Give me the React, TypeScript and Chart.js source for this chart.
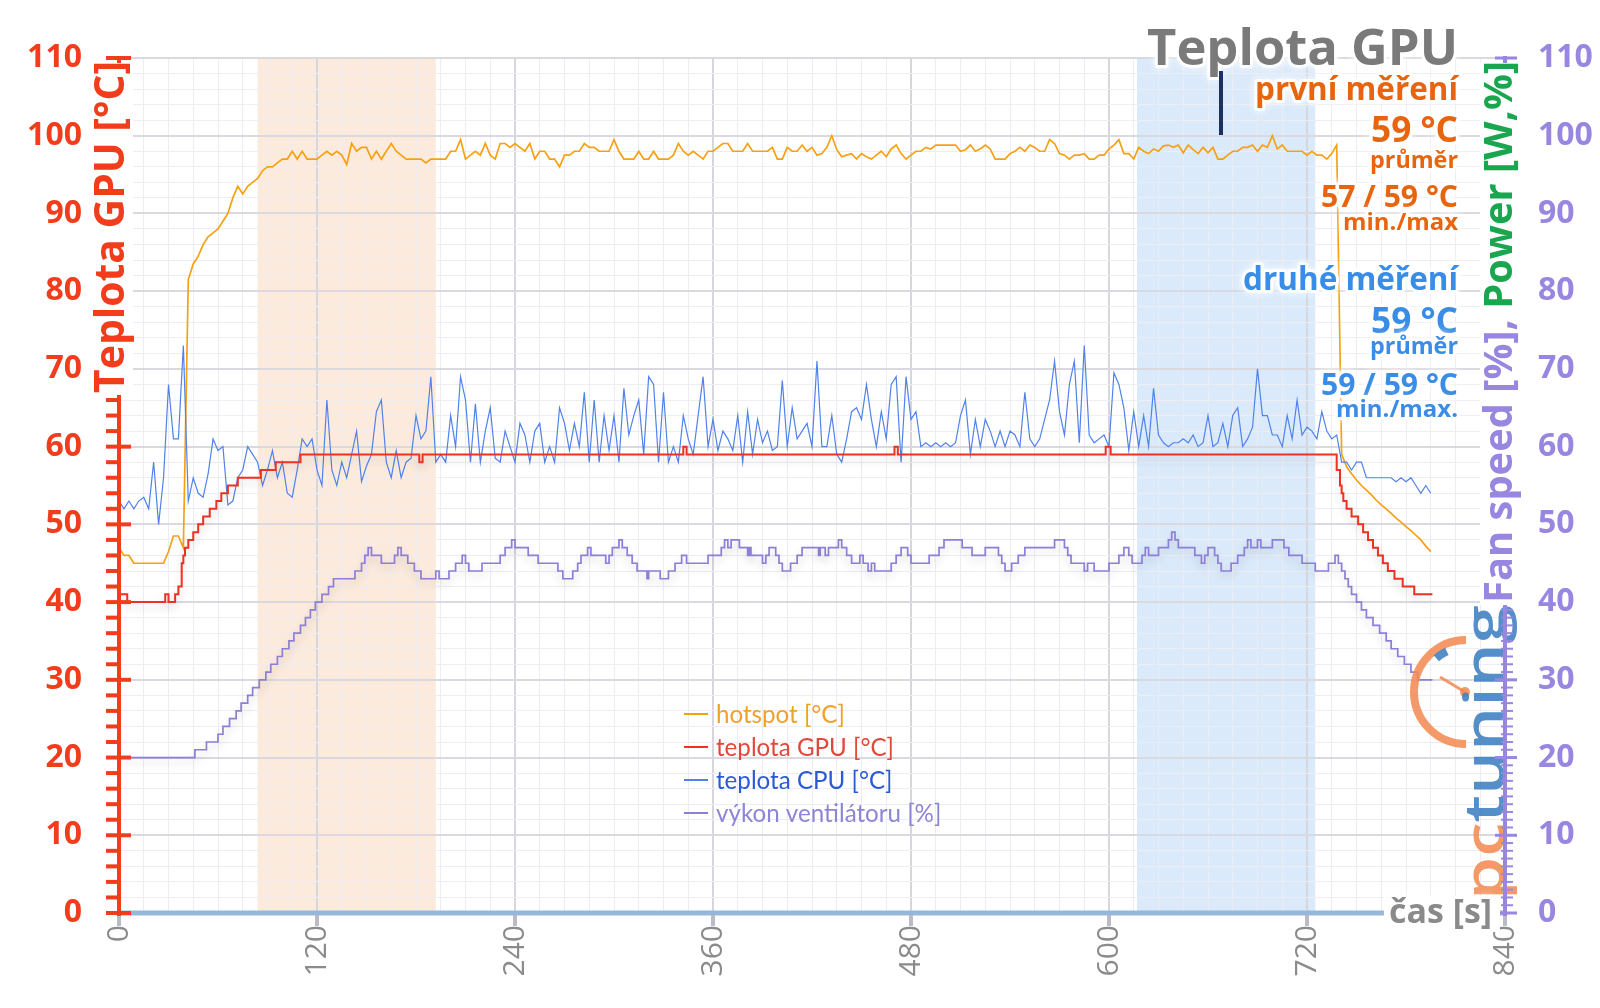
import React, { useEffect, useRef } from "react";
import { Chart, registerables } from "chart.js";

Chart.register(...registerables);

const FONT = '"Open Sans", "Noto Sans", "DejaVu Sans", sans-serif';
const LEGEND_FONT = 'Lato, "Open Sans", sans-serif';

// ---------------- data ----------------
const SAMPLE_STEP_S = 3; // hotspot & CPU sampled every 3 s starting at 0 s

const hotspotTemp = [
  47, 46, 46, 45, 45, 45, 45, 45, 45, 45,
  46.5, 48.5, 48.5, 47, 81.5, 83.5, 84.5, 86, 87, 87.5,
  88, 89, 90, 92, 93.5, 92.5, 93.5, 94, 94.5, 95.5,
  96, 96, 96.5, 97, 97, 98, 97, 98, 97, 97,
  97, 97.5, 98, 97.5, 98, 97.5, 96.3, 99, 98, 98.5,
  98.5, 97, 98, 97, 98, 99, 98, 97.5, 97, 97,
  97, 97, 96.5, 97, 97, 97, 97, 98,
  98, 99.5, 97, 97.5, 98, 97.5, 99, 97.5, 97, 99,
  99, 98.5, 99, 98.5, 98, 99, 97, 98, 98, 97,
  97, 96, 97.5, 97.5, 98, 98, 99, 98.5, 98.5, 98,
  98, 98, 99.5, 98, 97, 97, 97, 98, 97, 97,
  98, 97, 97, 97, 97.5, 99, 98, 97.5, 98, 97.5,
  97, 98, 98, 98.5, 99, 99, 98, 98, 98, 99,
  98, 98, 98, 98, 98.5, 97, 97,
  98.5, 98, 98, 98.8, 98, 98.5, 97.5, 97.7, 98.5, 100,
  98.2, 97.3, 97.5, 97.7, 97, 97.7, 97.3, 97, 97.5, 98,
  97.3, 98.3, 98.8, 97.7, 97, 97.5, 98, 98, 98.5, 98.3,
  98.8, 98.8, 98.8, 98.8, 98.8, 98, 98.2, 98.8, 98, 98.3,
  98.8, 98.3, 97, 97, 97, 97.7, 98, 98.5, 98, 98.8,
  98.5, 98, 98, 99.5, 99, 97.7, 97.5, 97, 97.5, 97.5,
  97.7, 97, 97, 97.5, 97.5, 98.3, 98.8,
  99.5, 97.7, 97.7, 97, 98.5, 98, 97.7, 98.3, 98, 98.7,
  98.8, 98.5, 98.8, 97.8, 98.8, 98.2, 97.7, 98.5, 97.8, 98.5,
  97, 97, 97.5, 98, 98, 98.5, 98.5, 98.8, 98, 98.8,
  98.5, 100, 98.3, 98.8, 98, 98, 98, 98, 97.5, 98,
  97.5, 97.5, 97, 97.7, 98.8,
  59, 57.4, 56.5, 55.7, 55, 54.4, 53.8, 53.1, 52.5, 52,
  51.4, 50.8, 50.3, 49.7, 49.2, 48.6, 48, 47.2, 46.5,
];

const cpuTemp = [
  53, 52, 53, 52, 53, 53.5, 52, 58, 50, 56,
  68, 61, 61, 73, 53, 56, 54, 53.5, 56.5, 61,
  59.5, 60, 52.5, 53, 56, 57, 60, 59, 58, 55,
  57, 59.5, 56, 58, 54, 53.5, 57, 61, 60, 61,
  57, 55, 66, 57, 55, 58, 56, 59, 62, 55.5,
  57.5, 59, 64.5, 66, 58, 56, 59.5, 56, 58, 58.5,
  64, 61, 62, 69, 58, 59, 58, 64,
  60, 69, 66, 58, 65.5, 58, 62, 65, 58.5, 58,
  62, 60, 58, 63, 61.5, 58, 62, 63, 58, 60,
  58, 65, 63, 59.5, 63, 60, 67, 58, 66, 58,
  64, 59.5, 64, 58, 67.5, 61.5, 64, 66, 59, 69,
  68, 58, 67, 58, 60, 58, 64, 61, 59, 64,
  69, 60, 63.5, 59.5, 62, 61, 59.5, 64, 58, 64.5,
  59, 63.5, 60.5, 62, 59.5, 60, 68.5,
  60, 65, 61, 62, 63, 60, 71, 60, 60, 64,
  59, 58, 61, 64.5, 65, 63.5, 68, 63.5, 60, 64.5,
  61, 68, 69, 58, 69, 63.5, 64.5, 60, 60.5, 60,
  60.5, 60, 60.5, 60, 60.5, 64, 66, 59, 63.5, 60,
  63.5, 62, 60, 62, 60, 62, 61.5, 60, 67, 61,
  60, 61, 63.5, 66, 71, 64.5, 61.5, 68, 71, 60.5,
  73, 61.5, 60.5, 61, 61.5, 60, 69.5,
  68, 65, 59.5, 64.5, 60, 64, 60, 67.5, 61.5, 60.5,
  60, 60.5, 60.5, 61, 60.5, 61.5, 60, 60.5, 64, 60,
  60.5, 63, 60, 64, 65, 60, 61, 62.5, 70, 64,
  64, 61.5, 61.5, 60, 64, 61, 66, 61.5, 62.5, 62,
  61, 64.5, 62, 61, 61.5, 58, 58, 57, 58, 58,
  56, 56, 56, 56, 56, 56, 55.5, 56, 55.5, 56,
  55, 54, 55, 54,
];

// [time s, value] change points (held until next point)
const gpuTempSteps: [number, number][] = [
  [0, 41], [5, 40], [28, 41], [30, 40], [34, 41], [36, 42], [38, 45], [39, 46], [40, 47],
  [42, 48], [45, 49], [48, 50], [51, 51], [55, 52], [59, 53], [62, 54], [66, 55], [72, 56],
  [86, 57], [95, 58], [110, 59], [182, 58], [184, 59], [342, 60], [344, 59], [470, 60],
  [472, 59], [598, 60], [601, 59], [738, 57], [740, 55], [741, 54], [742, 53], [744, 52],
  [747, 51], [751, 50], [754, 49], [757, 48], [760, 47], [763, 46], [766, 45], [769, 44],
  [773, 43], [778, 42], [785, 41], [796, 41],
];

const fanSpeedSteps: [number, number][] = [
  [0, 20], [46, 21], [53, 22], [60, 23], [63, 24], [67, 25], [71, 26], [74, 27], [78, 28],
  [81, 29], [85, 30], [89, 31], [92, 32], [96, 33], [99, 34], [103, 35], [106, 36], [110, 37],
  [113, 38], [116, 39], [119, 40], [123, 41], [127, 42], [130, 43], [143, 44], [147, 45],
  [149, 46], [151, 47], [153, 46], [159, 45], [167, 46], [169, 47], [171, 46], [175, 45],
  [179, 44], [183, 43], [192, 44], [194, 43], [200, 44], [204, 45], [208, 46], [210, 45],
  [212, 44], [220, 45], [231, 46], [234, 47], [238, 48], [240, 47], [248, 46], [254, 45],
  [266, 44], [269, 43], [275, 44], [278, 45], [280, 46], [284, 47], [286, 46], [295, 45],
  [297, 46], [299, 47], [303, 48], [305, 47], [308, 46], [311, 45], [314, 44], [320, 43],
  [321, 44], [328, 43], [333, 44], [337, 45], [341, 46], [344, 45], [357, 46], [365, 47],
  [367, 48], [369, 47], [371, 48], [376, 47], [381, 46], [382, 47], [383, 46], [390, 45],
  [392, 46], [394, 47], [398, 46], [400, 45], [402, 44], [407, 45], [411, 46], [414, 47],
  [424, 46], [425, 47], [428, 46], [430, 47], [436, 48], [438, 47], [441, 46], [444, 45],
  [449, 46], [451, 45], [454, 44], [456, 45], [458, 44], [468, 45], [471, 46], [474, 47],
  [478, 46], [480, 45], [491, 46], [497, 47], [500, 48], [511, 47], [517, 46], [525, 47],
  [533, 46], [535, 45], [537, 44], [541, 45], [545, 46], [549, 47], [567, 48], [573, 47],
  [575, 46], [577, 45], [585, 44], [587, 45], [591, 44], [600, 45], [606, 46], [609, 47],
  [612, 46], [614, 45], [620, 46], [622, 47], [624, 46], [630, 47], [636, 48], [638, 49],
  [640, 48], [642, 47], [652, 46], [656, 45], [658, 46], [660, 47], [664, 46], [666, 45],
  [668, 44], [674, 45], [678, 46], [682, 47], [684, 48], [686, 47], [690, 48], [692, 47],
  [699, 48], [706, 47], [709, 46], [717, 45], [725, 44], [733, 45], [737, 46], [739, 45],
  [741, 44], [743, 43], [745, 42], [747, 41], [750, 40], [753, 39], [756, 38], [760, 37],
  [764, 36], [768, 35], [771, 34], [775, 33], [779, 32], [783, 31], [787, 30], [796, 30],
];

const seriesLabels = ["hotspot [°C]", "teplota GPU [°C]", "teplota CPU [°C]", "výkon ventilátoru [%]"];
const xTickLabels = [0, 120, 240, 360, 480, 600, 720, 840];
const yTickLabels = [0, 10, 20, 30, 40, 50, 60, 70, 80, 90, 100, 110];
const bandFrom = [84, 617];
const bandTo = [192, 725];
const chartTitle = "Teplota GPU";
const leftAxisTitle = "Teplota GPU [°C]";
const rightAxisTitleA = "Fan speed [%], ";
const rightAxisTitleB = "Power [W,%]";
const xAxisTitle = "čas [s]";
const summaryFirst = ["první měření", "59 °C", "průměr", "57 / 59 °C", "min./max"];
const summarySecond = ["druhé měření", "59 °C", "průměr", "59 / 59 °C", "min./max."];

// ---------------- styles ----------------
const RED = "#f23d1c";
const PURPLE = "#9886e0";
const GREEN = "#1aa64f";
const ORANGE_TXT = "#e8650f";
const BLUE_TXT = "#3a8de6";
const lineColors = ["#f6a114", "#ec3222", "#5082ea", "#8d7fd8"];
const legendTextColors = ["#f0a12a", "#e2473a", "#2a5ad6", "#8d86d6"];
const bandColors = ["rgba(252,233,216,0.9)", "rgba(214,232,251,0.9)"];

function fitSize(ctx: CanvasRenderingContext2D, text: string, weight: string, target: number, family = FONT) {
  ctx.font = `${weight} 100px ${family}`;
  return (100 * target) / ctx.measureText(text).width;
}

function haloText(
  ctx: CanvasRenderingContext2D, text: string, x: number, y: number, font: string,
  color: string, align: CanvasTextAlign = "right", halo = 6
) {
  ctx.save();
  ctx.font = font;
  ctx.textAlign = align;
  ctx.textBaseline = "alphabetic";
  ctx.lineJoin = "round";
  ctx.shadowColor = "rgba(255,255,255,1)";
  ctx.shadowBlur = 8;
  ctx.strokeStyle = "rgba(255,255,255,0.9)";
  ctx.lineWidth = halo;
  ctx.strokeText(text, x, y);
  ctx.shadowBlur = 0;
  ctx.fillStyle = color;
  ctx.fillText(text, x, y);
  ctx.restore();
}

const decorPlugin = {
  id: "decor",
  beforeDraw(chart: any) {
    const { ctx, chartArea: a, scales } = chart;
    ctx.save();
    ctx.fillStyle = "#ffffff";
    ctx.fillRect(0, 0, chart.width, chart.height);
    bandFrom.forEach((from, i) => {
      const x0 = scales.x.getPixelForValue(from);
      const x1 = scales.x.getPixelForValue(bandTo[i]);
      ctx.fillStyle = bandColors[i];
      ctx.fillRect(x0, a.top, x1 - x0, a.bottom - a.top);
    });
    ctx.restore();
  },
  beforeDatasetDraw(chart: any, args: any) {
    if (args.index === 1 || args.index === 3) {
      const ctx = chart.ctx;
      ctx.save();
      ctx.shadowColor = "rgba(0,0,0,0.16)";
      ctx.shadowBlur = 8;
      ctx.shadowOffsetY = 5;
    }
  },
  afterDatasetDraw(chart: any, args: any) {
    if (args.index === 1 || args.index === 3) chart.ctx.restore();
  },
  afterDraw(chart: any) {
    const { ctx, chartArea: a, scales } = chart;
    const xs = scales.x, ys = scales.y, y2 = scales.y2;

    // ---- logo (pctuning) ----
    ctx.save();
    ctx.globalAlpha = 0.88;
    ctx.strokeStyle = "#f28b52";
    ctx.lineWidth = 8;
    ctx.beginPath();
    ctx.arc(1466, 692, 52, Math.PI / 2, (3 * Math.PI) / 2);
    ctx.stroke();
    ctx.strokeStyle = "#3e7fc2";
    ctx.beginPath();
    ctx.arc(1466, 692, 45, 1.27 * Math.PI, 1.36 * Math.PI);
    ctx.stroke();
    ctx.strokeStyle = "#f28b52";
    ctx.lineWidth = 3;
    ctx.beginPath();
    ctx.moveTo(1465, 692);
    ctx.lineTo(1440, 677);
    ctx.stroke();
    ctx.fillStyle = "#f28b52";
    ctx.beginPath();
    ctx.arc(1465, 692, 5, 0, Math.PI * 2);
    ctx.fill();
    ctx.translate(1504, 900);
    ctx.rotate(-Math.PI / 2);
    ctx.font = `600 56px ${FONT}`;
    ctx.textBaseline = "alphabetic";
    const wPc = ctx.measureText("pc").width;
    const wTu = ctx.measureText("tuning").width;
    ctx.scale(295 / (wPc + wTu), 1);
    ctx.fillStyle = "#f28b52";
    ctx.fillText("pc", 0, 0);
    ctx.fillStyle = "#3e7fc2";
    ctx.fillText("tuning", wPc, 0);
    ctx.restore();

    ctx.save();
    ctx.lineCap = "butt";
    // ---- bottom axis ----
    ctx.strokeStyle = "#95b7db";
    ctx.lineWidth = 5;
    ctx.beginPath();
    ctx.moveTo(a.left, a.bottom);
    ctx.lineTo(a.right, a.bottom);
    ctx.stroke();
    ctx.strokeStyle = "#b9bcc6";
    ctx.lineWidth = 4;
    xTickLabels.forEach((v) => {
      const px = xs.getPixelForValue(v);
      ctx.beginPath();
      ctx.moveTo(px, a.bottom + 2);
      ctx.lineTo(px, a.bottom + 13);
      ctx.stroke();
    });
    // ---- left axis ----
    ctx.strokeStyle = RED;
    ctx.lineWidth = 4;
    ctx.beginPath();
    ctx.moveTo(a.left, ys.getPixelForValue(0) + 3);
    ctx.lineTo(a.left, ys.getPixelForValue(110) - 2);
    ctx.stroke();
    for (let v = 0; v <= 110; v += 2) {
      const py = ys.getPixelForValue(v);
      const major = v % 10 === 0;
      ctx.lineWidth = 4;
      ctx.beginPath();
      ctx.moveTo(a.left - 13, py);
      ctx.lineTo(major ? a.left + 12 : a.left, py);
      ctx.stroke();
    }
    // ---- right axis ----
    ctx.strokeStyle = PURPLE;
    ctx.lineWidth = 4;
    ctx.beginPath();
    ctx.moveTo(a.right, y2.getPixelForValue(0) + 3);
    ctx.lineTo(a.right, y2.getPixelForValue(110) - 2);
    ctx.stroke();
    for (let v = 0; v <= 110; v += 1) {
      const py = y2.getPixelForValue(v);
      const major = v % 10 === 0;
      ctx.lineWidth = major ? 3 : 2;
      ctx.beginPath();
      ctx.moveTo(a.right - (major ? 10 : 4), py);
      ctx.lineTo(a.right + (major ? 12 : 8), py);
      ctx.stroke();
    }
    ctx.restore();

    // ---- left axis title ----
    {
      const len = 332;
      const size = fitSize(ctx, leftAxisTitle, "bold", len);
      const base = 124;
      ctx.save();
      ctx.fillStyle = "#ffffff";
      ctx.fillRect(base - size * 0.78, a.top + 5, size * 1.0, len);
      ctx.translate(base, a.top + 3);
      ctx.rotate(-Math.PI / 2);
      ctx.font = `bold ${size}px ${FONT}`;
      ctx.textAlign = "right";
      ctx.fillStyle = RED;
      ctx.fillText(leftAxisTitle, 0, 0);
      ctx.restore();
    }
    // ---- right axis title ----
    {
      const len = 542;
      const full = rightAxisTitleA + rightAxisTitleB;
      const size = fitSize(ctx, full, "bold", len);
      const base = 1483 + size * 0.74;
      ctx.save();
      ctx.fillStyle = "#ffffff";
      ctx.fillRect(1480, a.top + 5, base + size * 0.2 - 1480, len);
      ctx.translate(base, a.top + 3);
      ctx.rotate(-Math.PI / 2);
      ctx.font = `bold ${size}px ${FONT}`;
      ctx.textAlign = "left";
      const wA = ctx.measureText(rightAxisTitleA).width;
      const wB = ctx.measureText(rightAxisTitleB).width;
      ctx.fillStyle = PURPLE;
      ctx.fillText(rightAxisTitleA, -(wA + wB), 0);
      ctx.fillStyle = GREEN;
      ctx.fillText(rightAxisTitleB, -wB, 0);
      ctx.restore();
    }
    // ---- x axis title ----
    {
      const size = fitSize(ctx, xAxisTitle, "bold", 103);
      ctx.save();
      ctx.fillStyle = "#ffffff";
      ctx.fillRect(1384, a.bottom - 17, 116, 36);
      ctx.restore();
      haloText(ctx, xAxisTitle, 1492, 923, `bold ${size}px ${FONT}`, "#8a8a8a", "right", 4);
    }

    // ---- title & marker ----
    {
      const size = fitSize(ctx, chartTitle, "bold", 311);
      haloText(ctx, chartTitle, 1458, 65, `bold ${size}px ${FONT}`, "#7a7a7a", "right", 6);
      ctx.save();
      ctx.strokeStyle = "#1c3160";
      ctx.lineWidth = 4;
      ctx.beginPath();
      ctx.moveTo(1221, 71);
      ctx.lineTo(1221, 135);
      ctx.stroke();
      ctx.restore();
    }
    // ---- summary ----
    const firstY = [100, 142, 168, 207, 230];
    const firstW = [203, 87, 88, 137, 115];
    const secondY = [290, 333, 354, 395, 417];
    const secondW = [215, 87, 88, 137, 122];
    summaryFirst.forEach((t, i) => {
      const s = fitSize(ctx, t, "bold", firstW[i]);
      haloText(ctx, t, 1458, firstY[i], `bold ${s}px ${FONT}`, ORANGE_TXT);
    });
    summarySecond.forEach((t, i) => {
      const s = fitSize(ctx, t, "bold", secondW[i]);
      haloText(ctx, t, 1458, secondY[i], `bold ${s}px ${FONT}`, BLUE_TXT);
    });

    // ---- legend ----
    const rows = [714, 747, 780, 813];
    const legendSize = fitSize(ctx, chart.data.datasets[0].label, "normal", 129, LEGEND_FONT);
    chart.data.datasets.forEach((ds: any, i: number) => {
      ctx.save();
      ctx.strokeStyle = lineColors[i];
      ctx.lineWidth = 2;
      ctx.beginPath();
      ctx.moveTo(684, rows[i]);
      ctx.lineTo(708, rows[i]);
      ctx.stroke();
      ctx.font = `${legendSize}px ${LEGEND_FONT}`;
      ctx.textBaseline = "middle";
      ctx.textAlign = "left";
      ctx.fillStyle = legendTextColors[i];
      ctx.fillText(ds.label, 716, rows[i] + 1);
      ctx.restore();
    });
  },
};

export default function App() {
  const ref = useRef<HTMLCanvasElement>(null);
  useEffect(() => {
    const canvas = ref.current;
    if (!canvas) return;
    Chart.defaults.font.family = FONT;
    const sampled = (arr: number[]) => arr.map((v, i) => ({ x: i * SAMPLE_STEP_S, y: v }));
    const steps = (arr: [number, number][]) => arr.map(([t, v]) => ({ x: t, y: v }));
    const chart = new Chart(canvas, {
      type: "line",
      data: {
        datasets: [
          { label: seriesLabels[0], data: sampled(hotspotTemp), borderColor: lineColors[0], borderWidth: 1.7, order: 2, yAxisID: "y" },
          { label: seriesLabels[1], data: steps(gpuTempSteps), borderColor: lineColors[1], borderWidth: 2, stepped: true, order: 0, yAxisID: "y" },
          { label: seriesLabels[2], data: sampled(cpuTemp), borderColor: lineColors[2], borderWidth: 1.2, order: 1, yAxisID: "y" },
          { label: seriesLabels[3], data: steps(fanSpeedSteps), borderColor: lineColors[3], borderWidth: 1.7, stepped: true, order: 3, yAxisID: "y2" },
        ],
      },
      options: {
        animation: false,
        responsive: false,
        maintainAspectRatio: false,
        devicePixelRatio: 1,
        layout: { padding: { top: 58, left: 0, right: 0, bottom: 0 } },
        elements: { point: { radius: 0 }, line: { tension: 0, fill: false } },
        plugins: { legend: { display: false }, tooltip: { enabled: false }, title: { display: false } },
        scales: {
          x: {
            type: "linear",
            min: 0,
            max: 840,
            afterFit: (s: any) => { s.height = 95; },
            border: { display: false },
            grid: {
              drawTicks: false,
              color: (c: any) => (c.tick && c.tick.value % 120 === 0 ? "#d6d6de" : "#ececf2"),
              lineWidth: (c: any) => (c.tick && c.tick.value % 120 === 0 ? 2 : 1),
            },
            ticks: {
              stepSize: 15,
              autoSkip: false,
              minRotation: 90,
              maxRotation: 90,
              padding: 12,
              color: "#8b8b8b",
              font: { size: 30, family: FONT },
              callback: (v: any) => (xTickLabels.includes(Number(v)) ? String(v) : ""),
            },
          },
          y: {
            position: "left",
            min: 0,
            max: 110,
            afterFit: (s: any) => { s.width = 119; },
            border: { display: false },
            grid: {
              drawTicks: false,
              color: (c: any) => (c.tick && c.tick.value % 10 === 0 ? "#d9d9df" : "#ededf2"),
              lineWidth: (c: any) => (c.tick && c.tick.value % 10 === 0 ? 2 : 1),
            },
            ticks: {
              stepSize: 2,
              autoSkip: false,
              padding: 37,
              color: RED,
              font: { size: 32, weight: "bold", family: FONT },
              callback: (v: any) => (yTickLabels.includes(Number(v)) ? String(v) : ""),
            },
          },
          y2: {
            position: "right",
            min: 0,
            max: 110,
            afterFit: (s: any) => { s.width = 95; },
            border: { display: false },
            grid: { display: false, drawTicks: false },
            ticks: {
              stepSize: 2,
              autoSkip: false,
              padding: 33,
              color: PURPLE,
              font: { size: 32, weight: "bold", family: FONT },
              callback: (v: any) => (yTickLabels.includes(Number(v)) ? String(v) : ""),
            },
          },
        },
      } as any,
      plugins: [decorPlugin as any],
    });
    return () => chart.destroy();
  }, []);

  return (
    <div style={{ position: "absolute", left: 0, top: 0, width: 1600, height: 1008, background: "#fff" }}>
      <canvas ref={ref} width={1600} height={1008} style={{ display: "block", width: 1600, height: 1008 }} />
    </div>
  );
}
